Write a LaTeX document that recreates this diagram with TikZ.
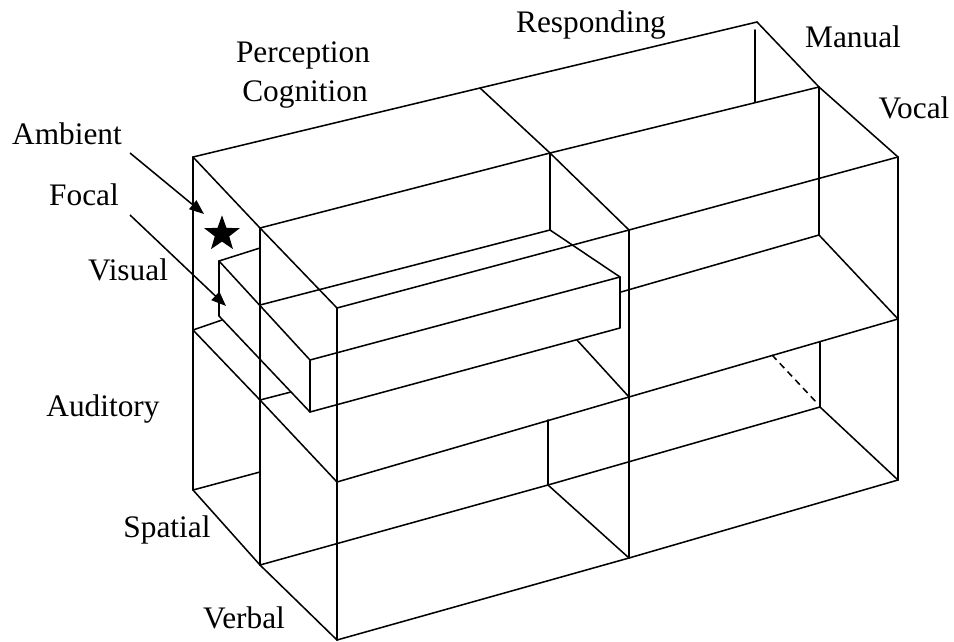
\documentclass[tikz,border=0pt]{standalone}
\usepackage{fontspec}
\setmainfont{Liberation Serif}
\usetikzlibrary{arrows.meta,shapes.geometric}

\begin{document}
\begin{tikzpicture}[x=0.75pt,y=-0.75pt,
  edge/.style={line width=1.15pt, line cap=round, line join=round},
  hidden/.style={line width=1.15pt, dash pattern=on 5pt off 3.5pt},
  lbl/.style={font=\fontsize{23.5}{28}\selectfont, inner sep=0pt, anchor=base},
  ptr/.style={line width=1.15pt, -{Triangle[length=11pt,width=8.5pt]}},
  starmark/.style={star, star points=5, star point ratio=2.45, fill=black,
                   draw=none, minimum size=28pt, inner sep=0pt}]
\useasboundingbox (0,0) rectangle (954,642);

% ---- corners of the block (top, mid height, bottom)
\coordinate (A0) at (193,157); \coordinate (A1) at (480,88);  \coordinate (A2) at (757,22);
\coordinate (B0) at (260,228); \coordinate (B1) at (550,153); \coordinate (B2) at (819,87);
\coordinate (C0) at (337,308); \coordinate (C1) at (629,230); \coordinate (C2) at (898,157);
\coordinate (a0) at (193,490); \coordinate (b0) at (260,565); \coordinate (c0) at (337,640);
\coordinate (b1) at (548,485); \coordinate (c1) at (629,558);
\coordinate (b2) at (820,407); \coordinate (c2) at (898,480);
\coordinate (ma0) at (193,330); \coordinate (mb0) at (260,400); \coordinate (mc0) at (337,482);
\coordinate (mc1) at (629,397); \coordinate (mc2) at (898,319);
\coordinate (rb) at (819,235);  \coordinate (rl) at (621,292);

% ---- focal bar
\coordinate (f1) at (219,261); \coordinate (f2) at (310,360);
\coordinate (f3) at (620,277); \coordinate (f4) at (550,230);
\coordinate (f5) at (219,316); \coordinate (f6) at (310,412);
\coordinate (f7) at (620,328); \coordinate (g)  at (260,305);

% ---- top face
\draw[edge] (A0) -- (A1) -- (A2);
\draw[edge] (A2) -- (B2) -- (C2);
\draw[edge] (A1) -- (B1) -- (C1);
\draw[edge] (A0) -- (B0) -- (C0);
\draw[edge] (B0) -- (B1) -- (B2);
\draw[edge] (C0) -- (C1) -- (C2);

% ---- vertical edges
\draw[edge] (A0) -- (a0);
\draw[edge] (B0) -- (b0);
\draw[edge] (C0) -- (c0);
\draw[edge] (B1) -- (f4);
\draw[edge] (C1) -- (c1);
\draw[edge] (755,30) -- (755,102);
\draw[edge] (B2) -- (rb);
\draw[edge] (C2) -- (c2);
\draw[edge] (548,420) -- (b1);
\draw[edge] (820,342) -- (b2);

% ---- bottom face
\draw[edge] (a0) -- (260,472);
\draw[edge] (a0) -- (b0) -- (c0);
\draw[edge] (c0) -- (c1) -- (c2);
\draw[edge] (b0) -- (b1) -- (b2);
\draw[edge] (b1) -- (c1);
\draw[edge] (b2) -- (c2);

% ---- mid-height level
\draw[edge] (ma0) -- (mb0) -- (mc0);
\draw[edge] (mc0) -- (mc1) -- (mc2);
\draw[edge] (ma0) -- (222,320);
\draw[edge] (mb0) -- (291,392);
\draw[edge] (577,340) -- (mc1);
\draw[hidden] (772,355) -- (817,403);

% ---- responding step
\draw[edge] (rl) -- (rb) -- (mc2);

% ---- focal bar
\draw[edge] (f1) -- (260,248);
\draw[edge] (f1) -- (f2);
\draw[edge] (f1) -- (f5) -- (f6);
\draw[edge] (f2) -- (f3) -- (f7) -- (f6) -- cycle;
\draw[edge] (g) -- (f4) -- (f3);

% ---- ambient / focal markers
\node[starmark] (amb star) at (222,234) {};
\coordinate (ambS) at (130,153); \coordinate (ambT) at (204,214);
\coordinate (focS) at (130,215); \coordinate (focT) at (226,306);
\draw[ptr] (ambS) -- (ambT);
\draw[ptr] (focS) -- (focT);

% ---- labels
\node[lbl] (perc) at (303,63)  {Perception};
\node[lbl] (cogn) at (305,102) {Cognition};
\node[lbl] (resp) at (591,33)  {Responding};
\node[lbl] (manu) at (853,48)  {Manual};
\node[lbl] (voca) at (914,118) {Vocal};
\node[lbl] (ambi) at (67,145)  {Ambient};
\node[lbl] (foca) at (84,205)  {Focal};
\node[lbl] (visu) at (128,280) {Visual};
\node[lbl] (audi) at (103,416) {Auditory};
\node[lbl] (spat) at (167,537) {Spatial};
\node[lbl] (verb) at (244,628) {Verbal};
\end{tikzpicture}
\end{document}
